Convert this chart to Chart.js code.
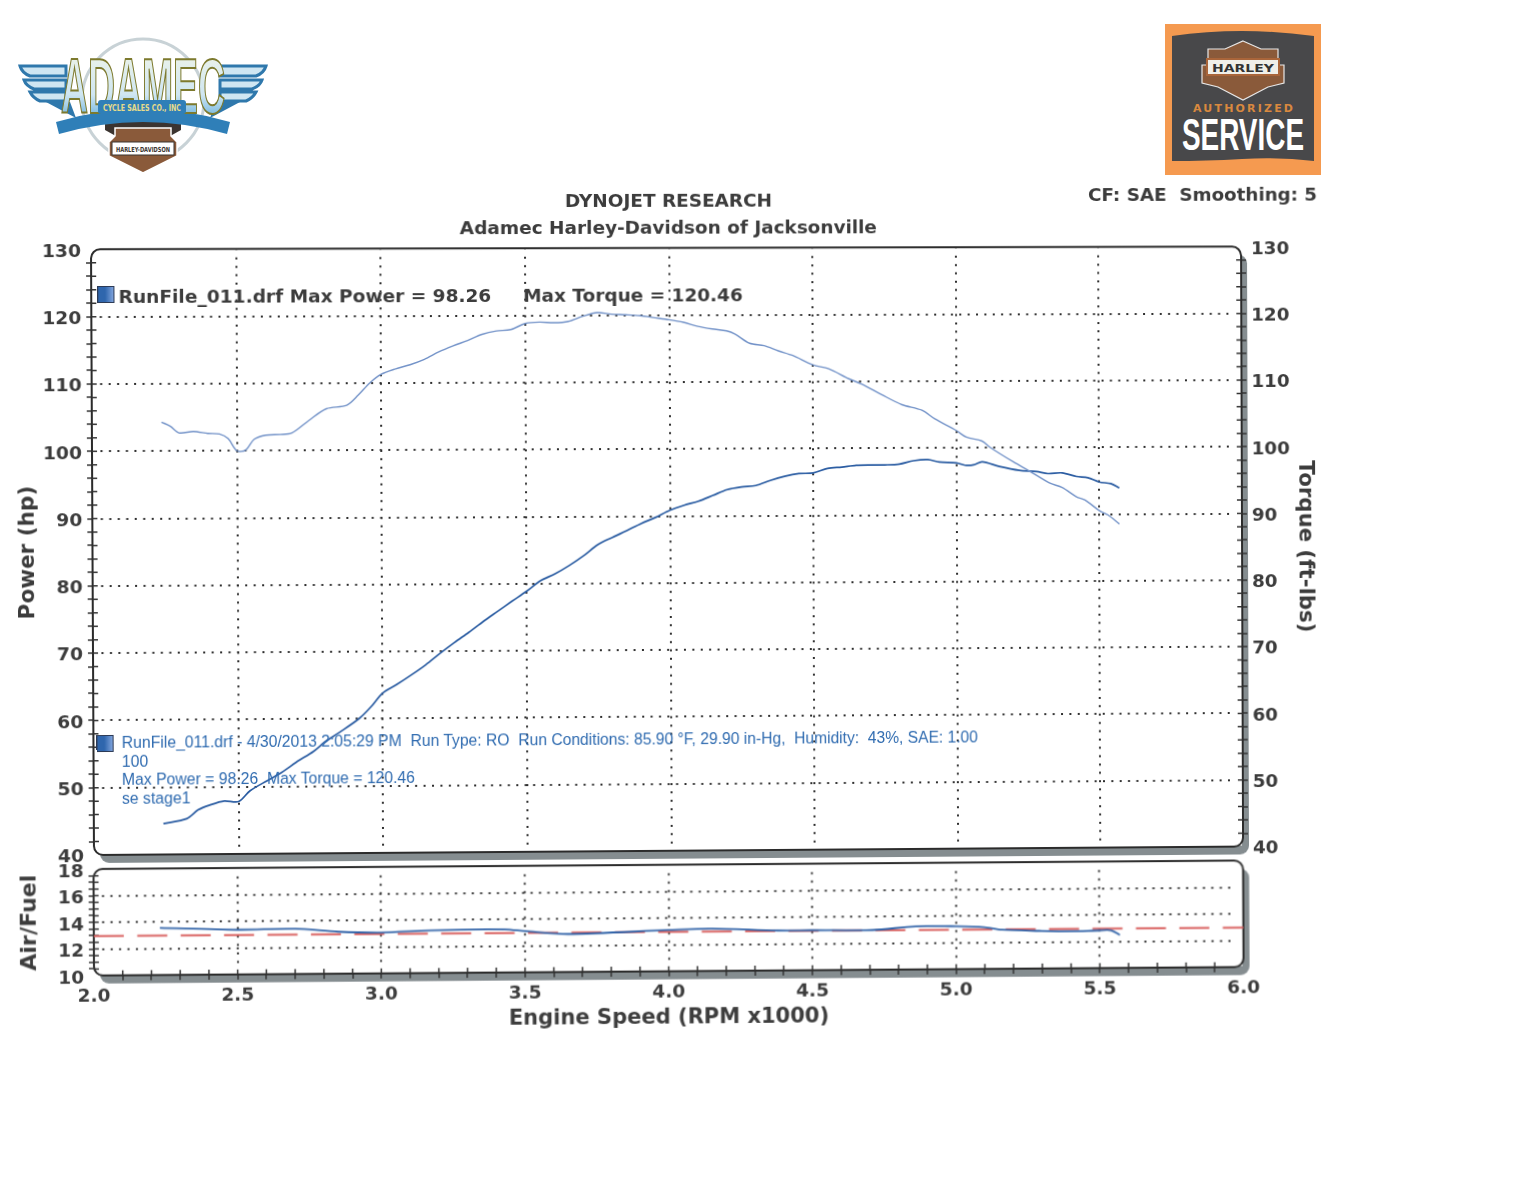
<!DOCTYPE html>
<html><head><meta charset="utf-8">
<script src="https://cdn.jsdelivr.net/npm/chart.js@4"></script>
<style>
html,body{margin:0;padding:0;background:#fff;width:1531px;height:1183px;overflow:hidden}
.sheet{position:absolute;left:0;top:0;width:1531px;height:1183px;transform-origin:0 0}
canvas{position:absolute;left:0}
.t{position:absolute;white-space:nowrap}
.b{font:bold 18.45px "DejaVu Sans";color:#3c3c3c}
.r{font:15.65px/18.6px "Liberation Sans";color:#2f6bb0}
.sw{position:absolute;width:15px;height:15px;border:1.5px solid #2c3a55;background:linear-gradient(90deg,#2f66ad 45%,#7fa3dc)}
svg{position:absolute}
</style></head><body>
<svg style="left:0;top:0" width="300" height="190" viewBox="0 0 300 190">
 <defs><linearGradient id="lg" x1="0" y1="0" x2="0" y2="1"><stop offset="0" stop-color="#f4f6e6"/><stop offset=".6" stop-color="#cfe6f2"/><stop offset="1" stop-color="#3f9bd3"/></linearGradient></defs>
 <circle cx="143" cy="100" r="61" fill="#fff" stroke="#c8d2d6" stroke-width="3"/>
 <path d="M105 100h76v30l-18 10h-40l-18-10z" fill="#3b3430"/>
 <g fill="#cfe6f2" stroke="#2f78ac" stroke-width="3">
  <path d="M20 66h46v10H30q-8-3-10-10zM24 80h42v9H34q-8-3-10-9zM30 92h36v9H40q-7-3-10-9z"/>
  <path d="M266 66h-46v10h36q8-3 10-10zM262 80h-42v9h32q8-3 10-9zM256 92h-36v9h26q7-3 10-9z"/>
 </g>
 <path d="M46 102h24l6 16zM240 102h-24l-6 16z" fill="#2f78ac"/>
 <path d="M56 122q87-26 174 0l-3 12q-84-24-168 0z" fill="#2f7fb8"/>
 <text x="143" y="113" text-anchor="middle" font-family="Liberation Sans" font-weight="bold" font-size="78" textLength="164" lengthAdjust="spacingAndGlyphs" fill="url(#lg)" stroke="#7d7a2e" stroke-width="2">ADAMEC</text>
 <rect x="98" y="100" width="88" height="14" rx="3" fill="#2f7fb8"/>
 <text x="142" y="111" text-anchor="middle" font-family="DejaVu Sans" font-weight="bold" font-size="9" textLength="78" lengthAdjust="spacingAndGlyphs" fill="#e8dc8a">CYCLE SALES CO., INC</text>
 <path d="M115 128h56v8l6 6v14l-34 17-34-17v-14l6-6z" fill="#8a5a3a" stroke="#fff" stroke-width="1.5"/>
 <rect x="112" y="142" width="62" height="13" fill="#fff" stroke="#3b3430"/>
 <text x="143" y="151.500" text-anchor="middle" font-family="DejaVu Sans" font-weight="bold" font-size="7" textLength="54" lengthAdjust="spacingAndGlyphs" fill="#3b3430">HARLEY-DAVIDSON</text>
</svg>
<svg style="left:1160px;top:20px" width="170" height="160" viewBox="1160 20 170 160">
 <rect x="1165" y="24" width="156" height="151" fill="#f59a50"/>
 <path d="M1172 36q35-5 70-5t72 5v125q-35-4-72-2t-70 2z" fill="#48484a"/>
 <path d="M1243 41l18 8h17v16h6v18l-16 4-25 13-25-13-16-4V65h6V49h17z" fill="#8a5a3a" stroke="#e8e8e8" stroke-width="1.2"/>
 <rect x="1207" y="59" width="72" height="16" fill="#f0efe9" stroke="#a9653a" stroke-width="2"/>
 <text x="1243" y="71.500" text-anchor="middle" font-family="DejaVu Sans" font-weight="bold" font-size="11" textLength="62" lengthAdjust="spacingAndGlyphs" fill="#333">HARLEY</text>
 <text x="1243" y="112" text-anchor="middle" font-family="DejaVu Sans" font-weight="bold" font-size="11" textLength="100" fill="#d9893f">AUTHORIZED</text>
 <text x="1243" y="150" text-anchor="middle" font-family="Liberation Sans" font-weight="bold" font-size="44" textLength="122" lengthAdjust="spacingAndGlyphs" fill="#fff">SERVICE</text>
</svg>
<div class="sheet" id="mainSheet">
 <canvas id="main" width="1531" height="900" style="top:0"></canvas>
 <div class="t b" style="left:1089px;top:186px">CF: SAE&nbsp; Smoothing: 5</div>
 <div class="sw" style="left:100px;top:286px"></div>
 <div class="t b" style="left:121px;top:286px">RunFile_011.drf Max Power = 98.26</div>
 <div class="t b" style="left:523px;top:286px">Max Torque = 120.46</div>
 <div class="sw" style="left:97px;top:735px"></div>
 <div class="t r" style="left:122px;top:734px">RunFile_011.drf - 4/30/2013 2:05:29 PM&nbsp; Run Type: RO&nbsp; Run Conditions: 85.90 °F, 29.90 in-Hg,&nbsp; Humidity:&nbsp; 43%, SAE: 1.00<br>100<br>Max Power = 98.26&nbsp; Max Torque = 120.46<br>se stage1</div>
</div>
<div class="sheet" id="afrSheet">
 <canvas id="afr" width="1531" height="200" style="top:850px"></canvas>
</div>
<script>
const titleLines = ["DYNOJET RESEARCH", "Adamec Harley-Davidson of Jacksonville"];
const torqueRpm = [2.24,2.27,2.30,2.35,2.40,2.44,2.47,2.50,2.53,2.56,2.60,2.65,2.69,2.75,2.81,2.88,2.92,2.96,3.00,3.05,3.10,3.15,3.20,3.25,3.30,3.35,3.40,3.45,3.50,3.55,3.60,3.65,3.70,3.75,3.80,3.85,3.90,3.95,4.00,4.05,4.10,4.15,4.20,4.23,4.28,4.33,4.38,4.43,4.50,4.555,4.625,4.67,4.74,4.81,4.88,4.925,5.00,5.035,5.09,5.12,5.20,5.255,5.325,5.37,5.42,5.45,5.50,5.53,5.57];
const torqueValues = [104.3,103.7,102.7,102.9,102.6,102.5,101.8,100.0,100.1,101.7,102.3,102.4,102.6,104.5,106.2,106.7,108.2,110.0,111.3,112.1,112.7,113.5,114.6,115.5,116.3,117.2,117.7,117.9,118.8,119.0,118.9,119.1,119.85,120.4,120.15,120.05,119.9,119.6,119.3,118.9,118.3,117.9,117.6,117.1,115.75,115.4,114.6,113.9,112.5,111.9,110.4,109.6,108.0,106.5,105.65,104.35,102.6,101.6,101.0,100.0,97.85,96.5,94.7,94.0,92.6,92.1,90.5,89.85,88.5];
const powerRpm = [2.24,2.32,2.36,2.40,2.45,2.50,2.54,2.60,2.65,2.70,2.76,2.80,2.85,2.92,2.96,3.00,3.05,3.10,3.15,3.20,3.25,3.30,3.35,3.40,3.45,3.50,3.55,3.60,3.65,3.70,3.75,3.80,3.85,3.90,3.95,4.00,4.05,4.10,4.15,4.20,4.25,4.30,4.35,4.40,4.45,4.50,4.55,4.60,4.65,4.70,4.75,4.80,4.85,4.90,4.94,5.00,5.03,5.06,5.09,5.15,5.22,5.28,5.32,5.37,5.42,5.46,5.50,5.54,5.57];
const powerValues = [44.6,45.3,46.6,47.3,47.9,47.8,49.4,50.9,52.1,53.6,55.2,56.6,58.0,60.1,61.8,63.8,65.1,66.5,68.0,69.7,71.3,72.8,74.4,75.9,77.4,78.85,80.45,81.45,82.7,84.15,85.8,86.85,87.85,88.9,89.8,90.85,91.6,92.2,93.05,93.9,94.3,94.5,95.25,95.85,96.25,96.35,97.0,97.2,97.45,97.5,97.5,97.6,98.1,98.26,97.9,97.75,97.4,97.45,97.9,97.2,96.6,96.4,96.1,96.2,95.65,95.45,94.8,94.55,93.9];
const afrRpm = [2.23,2.50,2.70,2.85,3.00,3.17,3.43,3.50,3.65,4.00,4.15,4.38,4.50,4.71,4.86,5.00,5.10,5.16,5.29,5.40,5.50,5.54,5.57];
const afrValues = [13.54,13.36,13.40,13.15,13.07,13.20,13.24,13.10,12.85,13.10,13.18,13.00,13.00,12.98,13.24,13.22,13.13,12.93,12.83,12.78,12.83,12.83,12.47];
const targetRpm = [2.0,6.0];
const targetValues = [12.97,12.97];
const powerLabel = "Power (hp)", torqueLabel = "Torque (ft-lbs)", afrLabel = "Air/Fuel", xLabel = "Engine Speed (RPM x1000)";

// The reference is a scan: the sheet is slightly keystoned. Map each flat plot rectangle onto the scanned quad (TL,TR,BR,BL).
function keystone(el,L,T,R,B,q){
 const [x0,y0,x1,y1,x2,y2,x3,y3]=q,W=R-L,H=B-T;
 const dx1=x1-x2,dx2=x3-x2,sx=x0-x1+x2-x3,dy1=y1-y2,dy2=y3-y2,sy=y0-y1+y2-y3,den=dx1*dy2-dx2*dy1;
 const g=(sx*dy2-dx2*sy)/den,h=(dx1*sy-sx*dy1)/den;
 const a=x1-x0+g*x1,b=x3-x0+h*x3,d=y1-y0+g*y1,e=y3-y0+h*y3;
 const A=a/W,B2=b/H,C=x0-A*L-B2*T,D=d/W,E=e/H,F=y0-D*L-E*T,G=g/W,H2=h/H,I=1-G*L-H2*T;
 el.style.transform=`matrix3d(${A},${D},0,${G},${B2},${E},0,${H2},0,0,1,0,${C},${F},0,${I})`;
}
keystone(document.getElementById("mainSheet"),94,250,1243,855,[91,250,1241,247.3,1243,846.5,94,855]);
keystone(document.getElementById("afrSheet"),94,869,1243,975,[93.5,869,1243,860.5,1243.5,967,94,975.5]);

const INK="#3c3c3c", LINE="#2b2b2b", DOT="#2e2e2e", SHADOW="#858d90";
const font=(size)=>({family:"DejaVu Sans",weight:"bold",size,lineHeight:1.2});
const pts=(xs,ys)=>xs.map((x,i)=>({x,y:ys[i]}));
const rr=(c,a,dx,dy)=>{c.beginPath();c.roundRect(a.left+dx,a.top+dy,a.width,a.height,9);};
const framePlugin={id:"frame",
 beforeDraw(ch){const c=ch.ctx,a=ch.chartArea;c.save();c.fillStyle=SHADOW;rr(c,a,6,8);c.fill();c.fillStyle="#fff";rr(c,a,0,0);c.fill();c.restore();},
 beforeDatasetsDraw(ch){const c=ch.ctx,a=ch.chartArea;c.save();
  c.fillStyle="#fff";c.beginPath();c.rect(a.left+1,a.top+1,a.width-2,a.height-2);c.rect(a.left+7,a.top+7,a.width-14,a.height-14);c.fill("evenodd");
  c.strokeStyle=LINE;c.lineWidth=2;rr(c,a,0,0);c.stroke();
  c.lineWidth=1.5;c.strokeStyle="#333";c.beginPath();
  for(const id in ch.scales){const s=ch.scales[id];if(s.options.ticks.display===false)continue;
   s.ticks.forEach(t=>{if(t.value===s.min||t.value===s.max)return;const p=s.getPixelForValue(t.value);
    if(s.axis==="x"){c.moveTo(p,a.bottom);c.lineTo(p,a.bottom-5);}
    else if(s.position==="left"){c.moveTo(a.left,p);c.lineTo(a.left+5,p);}
    else{c.moveTo(a.right,p);c.lineTo(a.right-5,p);}});}
  c.stroke();c.restore();}};
const gridColor=(isMajor)=>(ctx)=>{const v=ctx.tick?ctx.tick.value:0,s=ctx.scale;return (v!==s.min&&v!==s.max&&isMajor(v))?DOT:"transparent";};
const tickColor=(ctx)=>{const v=ctx.tick?ctx.tick.value:0,s=ctx.scale;return (v===s.min||v===s.max)?"transparent":"#333";};
const yAxis=(pos,min,max,step,major,title,width,showGrid,titleSize,labelOffset)=>({position:pos,min,max,
 afterFit(s){s.width=width;},
 title:{display:true,text:title,color:INK,font:font(titleSize),padding:0},
 border:{display:false,dash:[2,6.4]},
 grid:{drawOnChartArea:showGrid,color:gridColor(v=>v%major===0),lineWidth:2,tickColor,tickWidth:1.5,tickLength:5,tickBorderDash:[]},
 ticks:{stepSize:step,autoSkip:false,color:INK,font:font(18.5),padding:5,labelOffset,callback:v=>v%major===0?String(v):""}});

new Chart(document.getElementById("main"),{type:"scatter",plugins:[framePlugin],
 data:{datasets:[
  {label:"Torque",data:pts(torqueRpm,torqueValues),yAxisID:"y",showLine:true,borderColor:"#7292c8",borderWidth:1.4,pointRadius:0,tension:.3},
  {label:"Power",data:pts(powerRpm,powerValues),yAxisID:"y",showLine:true,borderColor:"#2a5ca2",borderWidth:1.7,pointRadius:0,tension:.3}]},
 options:{responsive:false,animation:false,devicePixelRatio:1,
  layout:{padding:{left:18,right:212,top:189,bottom:45}},
  plugins:{legend:{display:false},tooltip:{enabled:false},
   title:{display:true,text:titleLines,fullSize:false,color:INK,font:{family:"DejaVu Sans",weight:"bold",size:18.45,lineHeight:1.5},padding:{top:0,bottom:5}}},
  scales:{
   x:{type:"linear",min:2,max:6,afterFit(s){s.height=0;},border:{display:false,dash:[2,6.4]},
      grid:{color:gridColor(()=>true),lineWidth:2,drawTicks:false},ticks:{stepSize:.5,display:false}},
   y:yAxis("left",40,130,2,10,powerLabel,76,true,21.5,2.5),
   y2:yAxis("right",40,130,2,10,torqueLabel,76,false,21.5,2.5)}}});

new Chart(document.getElementById("afr"),{type:"scatter",plugins:[framePlugin],
 data:{datasets:[
  {label:"AFR",data:pts(afrRpm,afrValues),showLine:true,borderColor:"#2f62a8",borderWidth:1.8,pointRadius:0,tension:.3},
  {label:"Target",data:pts(targetRpm,targetValues),showLine:true,borderColor:"#d9605f",borderWidth:2,borderDash:[30,13.4],pointRadius:0}]},
 options:{responsive:false,animation:false,devicePixelRatio:1,
  layout:{padding:{left:17,right:288,top:19,bottom:16}},
  plugins:{legend:{display:false},tooltip:{enabled:false}},
  scales:{
   x:{type:"linear",min:2,max:6,afterFit(s){s.height=59;},
      title:{display:true,text:xLabel,color:INK,font:font(21),padding:0},
      border:{display:false,dash:[2,6.4]},
      grid:{color:gridColor(v=>Math.round(v*10)%5===0),lineWidth:2,tickColor,tickWidth:1.5,tickLength:5,tickBorderDash:[]},
      ticks:{stepSize:.1,autoSkip:false,maxRotation:0,color:INK,font:font(18.5),padding:5,callback:v=>Math.round(v*10)%5===0?v.toFixed(1):""}},
   y:yAxis("left",10,18,.5,2,afrLabel,77,true,22,3)}}});
</script>
</body></html>
